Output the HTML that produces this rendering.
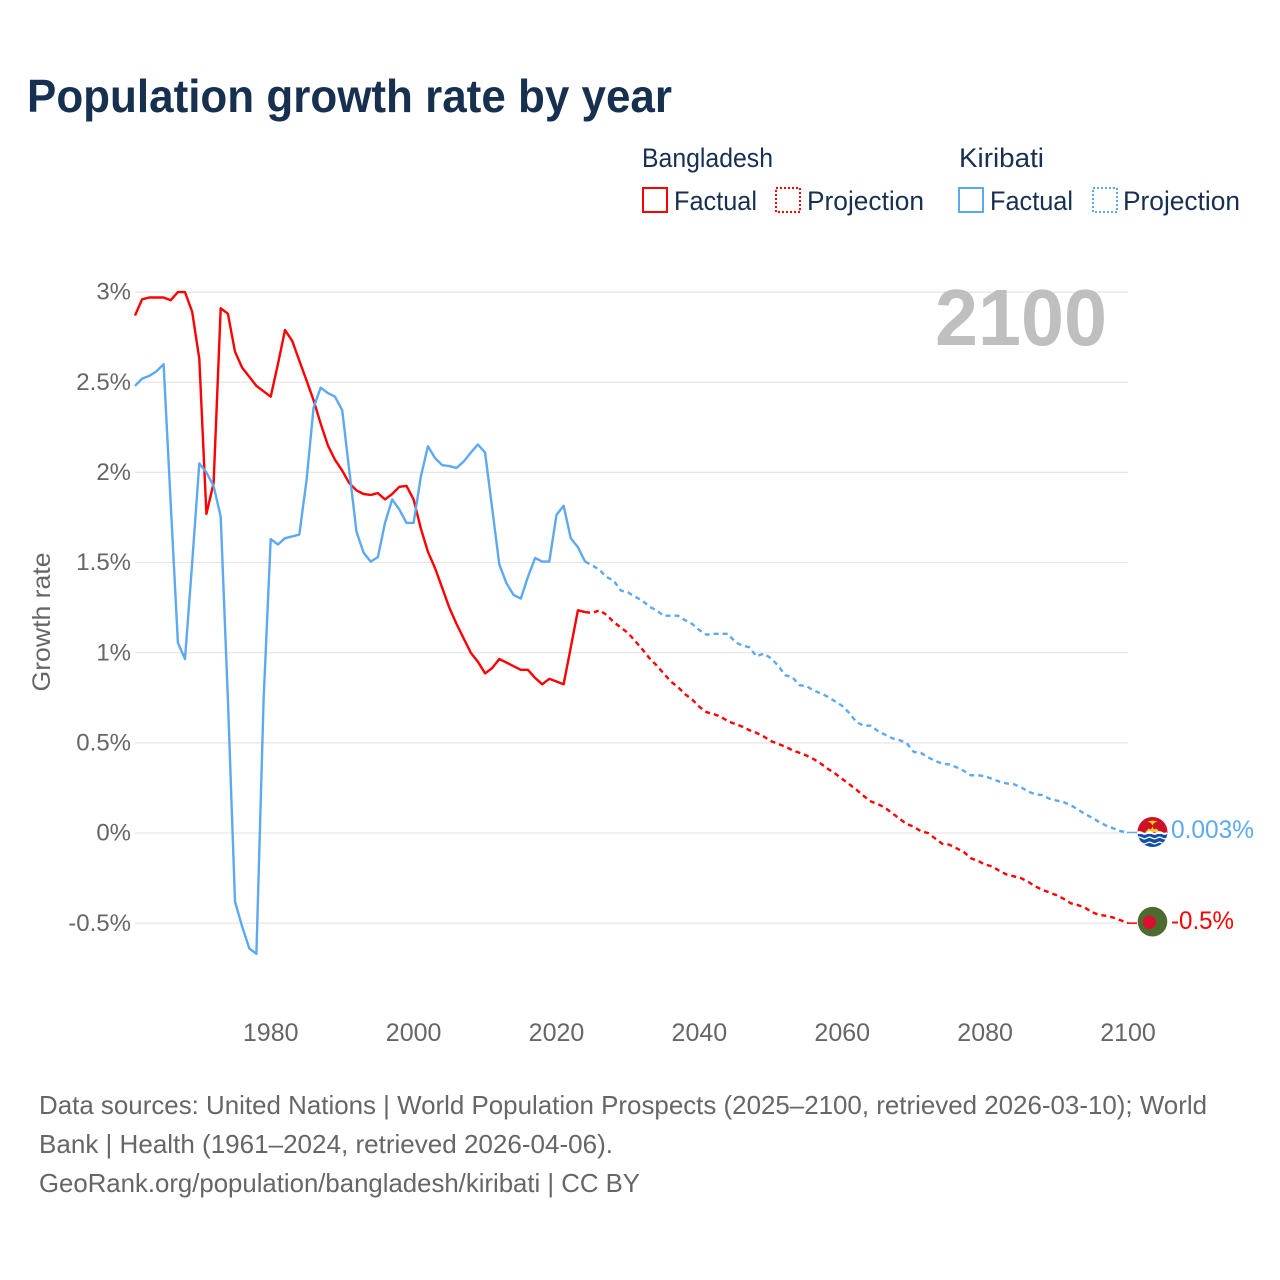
<!DOCTYPE html>
<html lang="en">
<head>
<meta charset="utf-8">
<title>Population growth rate by year</title>
<style>
html,body{margin:0;padding:0;background:#fff;width:1280px;height:1280px;overflow:hidden}
svg{display:block}
text{font-family:"Liberation Sans",sans-serif}
</style>
</head>
<body>
<svg id="chart" xmlns="http://www.w3.org/2000/svg" width="1280" height="1280" viewBox="0 0 1280 1280">
  <rect width="1280" height="1280" fill="#fff"/>
  <text x="27" y="112" font-size="46" font-weight="700" fill="#17304f" textLength="645" lengthAdjust="spacingAndGlyphs">Population growth rate by year</text>

  <g font-size="26.5" fill="#17304f">
    <text x="642" y="167" textLength="131" lengthAdjust="spacingAndGlyphs">Bangladesh</text>
    <text x="959" y="167" textLength="85" lengthAdjust="spacingAndGlyphs">Kiribati</text>
    <g>
      <rect x="643" y="188" width="24" height="24" fill="none" stroke="#ff0000" stroke-width="2"/>
      <text x="674" y="210" textLength="83" lengthAdjust="spacingAndGlyphs">Factual</text>
    </g>
    <g>
      <rect x="776" y="188" width="24" height="24" fill="none" stroke="#ff0000" stroke-width="2" stroke-dasharray="2 2"/>
      <text x="807" y="210" textLength="117" lengthAdjust="spacingAndGlyphs">Projection</text>
    </g>
    <g>
      <rect x="959" y="188" width="24" height="24" fill="none" stroke="#5da9f0" stroke-width="2"/>
      <text x="990" y="210" textLength="83" lengthAdjust="spacingAndGlyphs">Factual</text>
    </g>
    <g>
      <rect x="1093" y="188" width="24" height="24" fill="none" stroke="#5da9f0" stroke-width="2" stroke-dasharray="2 2"/>
      <text x="1123" y="210" textLength="117" lengthAdjust="spacingAndGlyphs">Projection</text>
    </g>
  </g>

  <g id="grid"></g>
  <g id="yticks" font-size="24" fill="#666" text-anchor="end"></g>
  <g id="xticks" font-size="25" fill="#666" text-anchor="middle"></g>
  <text transform="translate(50,622) rotate(-90)" font-size="25" fill="#666" text-anchor="middle" textLength="139" lengthAdjust="spacingAndGlyphs">Growth rate</text>
  <text x="935" y="345" font-size="80" font-weight="700" fill="#bfbfbf" textLength="172" lengthAdjust="spacingAndGlyphs">2100</text>

  <g id="series" fill="none" stroke-width="2.4" stroke-linejoin="round"></g>

  <clipPath id="flag-clip-k"><circle cx="1152.5" cy="832" r="15"/></clipPath>
  <g clip-path="url(#flag-clip-k)">
    <rect x="1137" y="816" width="31" height="17" fill="#ce1126"/>
    <rect x="1137" y="834" width="31" height="15" fill="#1250a5"/>
    <path d="M1145.500 832 L1148.500 828.500 L1151 829.500 L1152.500 826.500 L1154 829.500 L1156.500 828.500 L1159.500 832 Z" fill="#fcc93c"/>
    <path d="M1147.500 821.500 L1152.500 820.500 L1157.500 821.500 L1154 823 L1152.500 825.500 L1151 823 Z" fill="#fcd116"/>
    <path d="M1137 833 q2.500 -1.600 5 0 t5 0 t5 0 t5 0 t5 0 t5 0" fill="none" stroke="#fff" stroke-width="2"/>
    <path d="M1137 838 q2.500 -1.600 5 0 t5 0 t5 0 t5 0 t5 0 t5 0" fill="none" stroke="#fff" stroke-width="1.300"/>
    <path d="M1137 843 q2.500 -1.600 5 0 t5 0 t5 0 t5 0 t5 0 t5 0" fill="none" stroke="#fff" stroke-width="1.300"/>
  </g>
  <g>
    <circle cx="1152.5" cy="921.7" r="14.8" fill="#4d6b2e"/>
    <circle cx="1149.4" cy="922.3" r="6.700" fill="#dc0f2e"/>
  </g>

  <text id="label-k" x="1171" y="838" font-size="25" fill="#5da9f0" textLength="83" lengthAdjust="spacingAndGlyphs">0.003%</text>
  <text id="label-b" x="1171" y="929" font-size="25" fill="#ff0000" textLength="63" lengthAdjust="spacingAndGlyphs">-0.5%</text>

  <g font-size="26" fill="#666">
    <text x="39" y="1114" textLength="1168" lengthAdjust="spacingAndGlyphs">Data sources: United Nations | World Population Prospects (2025–2100, retrieved 2026-03-10); World</text>
    <text x="39" y="1153" textLength="574" lengthAdjust="spacingAndGlyphs">Bank | Health (1961–2024, retrieved 2026-04-06).</text>
    <text x="39" y="1192" textLength="601" lengthAdjust="spacingAndGlyphs">GeoRank.org/population/bangladesh/kiribati | CC BY</text>
  </g>
</svg>
<script>
var yTickValues = [3, 2.5, 2, 1.5, 1, 0.5, 0, -0.5];
var yTickLabels = ["3%", "2.5%", "2%", "1.5%", "1%", "0.5%", "0%", "-0.5%"];
var xTickValues = [1980, 2000, 2020, 2040, 2060, 2080, 2100];
var xTickLabels = ["1980", "2000", "2020", "2040", "2060", "2080", "2100"];

var factualYears = [1961,1962,1963,1964,1965,1966,1967,1968,1969,1970,1971,1972,1973,1974,1975,1976,1977,1978,1979,1980,1981,1982,1983,1984,1985,1986,1987,1988,1989,1990,1991,1992,1993,1994,1995,1996,1997,1998,1999,2000,2001,2002,2003,2004,2005,2006,2007,2008,2009,2010,2011,2012,2013,2014,2015,2016,2017,2018,2019,2020,2021,2022,2023,2024];
var bangladeshFactual = [2.87,2.96,2.97,2.97,2.97,2.955,3.0,3.0,2.89,2.63,1.77,1.94,2.91,2.88,2.67,2.58,2.53,2.48,2.45,2.42,2.6,2.79,2.73,2.62,2.51,2.40,2.27,2.15,2.07,2.01,1.94,1.90,1.88,1.875,1.885,1.85,1.88,1.92,1.925,1.85,1.69,1.56,1.47,1.36,1.25,1.16,1.08,1.0,0.95,0.885,0.915,0.965,0.945,0.925,0.905,0.905,0.86,0.825,0.855,0.84,0.825,1.03,1.235,1.225];
var kiribatiFactual = [2.48,2.52,2.535,2.56,2.60,1.83,1.055,0.965,1.5,2.05,2.0,1.925,1.755,0.74,-0.38,-0.52,-0.64,-0.67,0.74,1.63,1.60,1.635,1.645,1.655,1.955,2.36,2.47,2.44,2.42,2.345,2.01,1.67,1.555,1.505,1.53,1.72,1.85,1.795,1.72,1.72,1.975,2.145,2.08,2.04,2.035,2.025,2.06,2.11,2.155,2.11,1.80,1.49,1.385,1.32,1.30,1.42,1.525,1.505,1.505,1.765,1.815,1.635,1.585,1.505];

var projectionYears = [2024,2025,2026,2027,2028,2029,2030,2031,2032,2033,2034,2035,2036,2037,2038,2039,2040,2041,2042,2043,2044,2045,2046,2047,2048,2049,2050,2051,2052,2053,2054,2055,2056,2057,2058,2059,2060,2061,2062,2063,2064,2065,2066,2067,2068,2069,2070,2071,2072,2073,2074,2075,2076,2077,2078,2079,2080,2081,2082,2083,2084,2085,2086,2087,2088,2089,2090,2091,2092,2093,2094,2095,2096,2097,2098,2099,2100];
var bangladeshProjection = [1.225,1.22,1.235,1.21,1.17,1.14,1.11,1.065,1.02,0.97,0.93,0.885,0.84,0.81,0.77,0.74,0.70,0.67,0.66,0.645,0.62,0.605,0.59,0.57,0.555,0.535,0.51,0.495,0.48,0.46,0.445,0.43,0.41,0.385,0.355,0.33,0.30,0.27,0.24,0.205,0.175,0.16,0.14,0.11,0.08,0.05,0.035,0.01,0.0,-0.03,-0.06,-0.065,-0.085,-0.105,-0.14,-0.155,-0.175,-0.185,-0.21,-0.23,-0.24,-0.25,-0.27,-0.295,-0.315,-0.33,-0.345,-0.365,-0.39,-0.40,-0.415,-0.44,-0.455,-0.46,-0.47,-0.485,-0.5];
var kiribatiProjection = [1.505,1.485,1.46,1.42,1.40,1.345,1.335,1.31,1.29,1.255,1.235,1.205,1.205,1.205,1.18,1.16,1.125,1.10,1.105,1.105,1.105,1.06,1.04,1.03,0.98,0.995,0.97,0.93,0.875,0.865,0.82,0.815,0.79,0.775,0.755,0.73,0.705,0.665,0.615,0.595,0.595,0.565,0.545,0.525,0.515,0.50,0.45,0.445,0.42,0.40,0.385,0.38,0.365,0.345,0.32,0.32,0.315,0.30,0.285,0.275,0.27,0.255,0.23,0.215,0.21,0.19,0.18,0.17,0.155,0.13,0.105,0.085,0.06,0.04,0.025,0.01,0.003];

var SVGNS = "http://www.w3.org/2000/svg";
function xScale(year) { return 135 + (year - 1961) * 993 / 139; }
function yScale(value) { return 833 - value * 180.3; }
function toPoints(years, values) {
  return values.map(function (v, i) { return xScale(years[i]).toFixed(1) + "," + yScale(v).toFixed(1); }).join(" ");
}

var gridGroup = document.getElementById("grid");
var yTickGroup = document.getElementById("yticks");
yTickValues.forEach(function (v, i) {
  var line = document.createElementNS(SVGNS, "line");
  
  
  line.setAttribute("x1", xScale(1961));
  line.setAttribute("x2", xScale(2100));
  line.setAttribute("y1", yScale(v));
  line.setAttribute("y2", yScale(v));
  line.setAttribute("stroke", "#e6e6e6");
  line.setAttribute("stroke-width", "1.2");
  gridGroup.appendChild(line);
  var label = document.createElementNS(SVGNS, "text");
  
  
  label.setAttribute("x", 131);
  label.setAttribute("y", yScale(v) + 7.6);
  label.textContent = yTickLabels[i];
  yTickGroup.appendChild(label);
});

var xTickGroup = document.getElementById("xticks");
xTickValues.forEach(function (year, i) {
  var label = document.createElementNS(SVGNS, "text");
  
  
  label.setAttribute("x", xScale(year));
  label.setAttribute("y", 1041);
  label.textContent = xTickLabels[i];
  xTickGroup.appendChild(label);
});

var seriesGroup = document.getElementById("series");
function addLine(name, years, values, color, dash) {
  var line = document.createElementNS(SVGNS, "polyline");
  
  
  line.setAttribute("points", toPoints(years, values));
  line.setAttribute("stroke", color);
  if (dash) { line.setAttribute("stroke-dasharray", dash); }
  seriesGroup.appendChild(line);
}
function addConnector(name, years, values, color) {
  var last = values.length - 1;
  var connector = document.createElementNS(SVGNS, "line");
  
  
  connector.setAttribute("x1", xScale(years[last]) - 1);
  connector.setAttribute("x2", xScale(years[last]) + 9);
  connector.setAttribute("y1", yScale(values[last]));
  connector.setAttribute("y2", yScale(values[last]));
  connector.setAttribute("stroke", color);
  connector.setAttribute("stroke-width", "1.5");
  seriesGroup.appendChild(connector);
}
addLine("bangladesh-projection-line", projectionYears, bangladeshProjection, "#ff0000", "5 4");
addLine("kiribati-projection-line", projectionYears, kiribatiProjection, "#5da9f0", "5 4");
addLine("bangladesh-factual-line", factualYears, bangladeshFactual, "#ff0000", null);
addLine("kiribati-factual-line", factualYears, kiribatiFactual, "#5da9f0", null);
addConnector("bangladesh-flag-connector", projectionYears, bangladeshProjection, "#ff0000");
addConnector("kiribati-flag-connector", projectionYears, kiribatiProjection, "#5da9f0");
</script>
</body>
</html>
